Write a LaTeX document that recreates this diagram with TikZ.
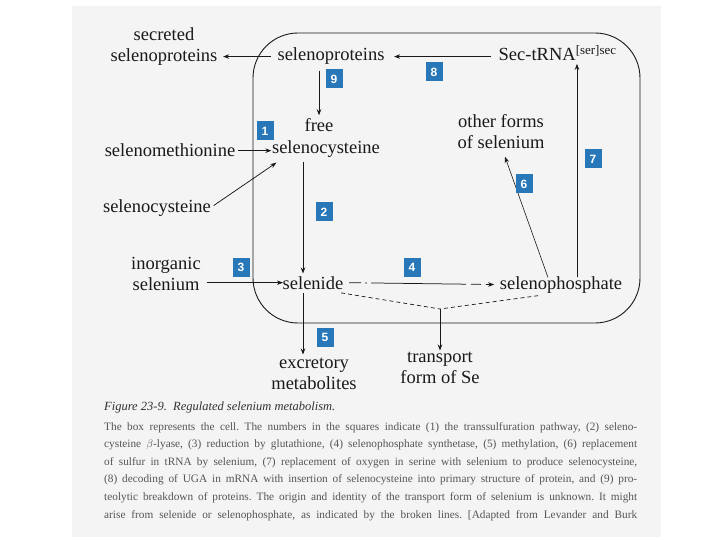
\documentclass[tikz,border=0pt]{standalone}
\usepackage{fontspec}
\setmainfont{Liberation Serif}
\setsansfont{Liberation Sans}
\usetikzlibrary{arrows.meta}
\definecolor{pagegray}{RGB}{244,244,244}
\definecolor{numblue}{RGB}{40,120,185}
\definecolor{ink}{RGB}{25,25,25}
\definecolor{captink}{RGB}{50,50,50}
\definecolor{bodyink}{RGB}{85,85,85}
\frenchspacing
\begin{document}
\begin{tikzpicture}[x=1pt,y=-1pt,
  lbl/.style={font=\fontsize{18.5}{21}\selectfont, text=ink, inner sep=1.5pt, align=center},
  arr/.style={-{Stealth[length=6pt,width=4.5pt]}, line width=0.75pt, draw=ink},
  brk/.style={line width=0.7pt, draw=ink, dash pattern=on 4pt off 3pt},
  numbox/.style={fill=numblue, text=white, font=\sffamily\bfseries\fontsize{12}{12}\selectfont, minimum width=17pt, minimum height=19pt, inner sep=0pt},
  bodyline/.style={anchor=base west, inner sep=0pt, text=bodyink, font=\fontsize{11.3}{13}\selectfont}]
\useasboundingbox (0,0) rectangle (720,540);
\fill[white] (0,0) rectangle (720,540);
\fill[pagegray] (72,6) rectangle (661,537);
% cell
\draw[line width=0.9pt, draw=ink, rounded corners=45pt] (253,33) rectangle (640,323);
% text nodes
\node[lbl] (secsel) at (164,46.5) {secreted\\selenoproteins};
\node[lbl, anchor=base] (selprot) at (331,61) {selenoproteins};
\node[lbl, anchor=base west] (sectrna) at (497,61) {Sec-tRNA\textsuperscript{[ser]sec}};
\node[lbl, anchor=base] (freet) at (319,132) {free};
\node[lbl, anchor=base] (freesc) at (326,154) {selenocysteine};
\node[lbl, anchor=base] (selmet) at (170,157) {selenomethionine};
\node[lbl, anchor=base] (selcys) at (157,213) {selenocysteine};
\node[lbl] (other) at (501,132) {other forms\\of selenium};
\node[lbl] (inorg) at (166,274) {inorganic\\selenium};
\node[lbl, anchor=base] (selenide) at (313,289) {selenide};
\node[lbl, anchor=base] (selphos) at (561,289) {selenophosphate};
\node[lbl] (excr) at (314,374) {excretory\\metabolites};
\node[lbl] (transp) at (440,368) {transport\\form of Se};
% helper columns
\coordinate (x9) at (319,0);
\coordinate (x2) at (303,0);
\coordinate (x7) at (577,0);
\coordinate (jn) at (440,309);
% connectors
\draw[arr] ([xshift=-5pt]selprot.west) -- ([xshift=4pt]secsel.east |- selprot.west);
\draw[arr] ([xshift=-6pt]sectrna.west |- selprot.east) -- ([xshift=8pt]selprot.east);
\draw[arr] ([yshift=-4pt]selprot.south -| x9) -- ([yshift=2pt]freet.north -| x9);
\draw[arr] ([xshift=1pt]selmet.east) -- ([xshift=1pt]freesc.west |- selmet.east);
\draw[arr] ([xshift=1pt,yshift=3pt]selcys.east) -- ([xshift=6pt,yshift=-3pt]freesc.south west);
\draw[arr] ([yshift=-2pt]freesc.south -| x2) -- ([yshift=1pt]selenide.north -| x2);
\draw[arr] ([xshift=5pt]inorg.east |- selenide.west) -- ([xshift=2pt]selenide.west);
\draw[arr, dash pattern=on 12pt off 4pt on 2pt off 4pt on 95pt off 5pt on 10pt off 5pt on 40pt] ([xshift=4pt]selenide.east) -- ([xshift=-4pt]selphos.west);
\draw[brk] ([xshift=-4pt,yshift=-2pt]selenide.south east) -- (jn);
\draw[brk] ([xshift=40pt,yshift=-1pt]selphos.south west) -- (jn);
\draw[arr] (jn) -- (transp.north);
\draw[arr] ([yshift=-2pt]selenide.south -| x2) -- ([yshift=2pt]excr.north -| x2);
\draw[arr, line width=0.6pt] ([xshift=-13pt,yshift=-3pt]selphos.north) -- ([xshift=4pt,yshift=-6pt]other.south);
\draw[arr] ([yshift=-3pt]selphos.north -| x7) -- ([yshift=-1pt]sectrna.south -| x7);
% number boxes
\node[numbox] (n9) at (334,79) {9};
\node[numbox] (n8) at (434,72) {8};
\node[numbox] (n1) at (265,131) {1};
\node[numbox] (n7) at (593,159) {7};
\node[numbox] (n6) at (524,184) {6};
\node[numbox] (n2) at (324,212) {2};
\node[numbox] (n3) at (241,267) {3};
\node[numbox] (n4) at (412,267) {4};
\node[numbox] (n5) at (325,337) {5};
% caption
\node[anchor=base west, inner sep=0pt, text=captink, font=\itshape\fontsize{12.5}{14}\selectfont] (cap) at (104,410) {Figure 23-9.\enspace Regulated selenium metabolism.};
\node[bodyline] (b1) at (104,430) {\makebox[533pt][s]{The box represents the cell. The numbers in the squares indicate (1) the transsulfuration pathway, (2) seleno-}};
\node[bodyline] (b2) at (104,447.6) {\makebox[533pt][s]{cysteine $\beta$-lyase, (3) reduction by glutathione, (4) selenophosphate synthetase, (5) methylation, (6) replacement}};
\node[bodyline] (b3) at (104,465.2) {\makebox[533pt][s]{of sulfur in tRNA by selenium, (7) replacement of oxygen in serine with selenium to produce selenocysteine,}};
\node[bodyline] (b4) at (104,482.8) {\makebox[533pt][s]{(8) decoding of UGA in mRNA with insertion of selenocysteine into primary structure of protein, and (9) pro-}};
\node[bodyline] (b5) at (104,500.4) {\makebox[533pt][s]{teolytic breakdown of proteins. The origin and identity of the transport form of selenium is unknown. It might}};
\node[bodyline] (b6) at (104,518) {\makebox[533pt][s]{arise from selenide or selenophosphate, as indicated by the broken lines. [Adapted from Levander and Burk}};
\end{tikzpicture}
\end{document}
